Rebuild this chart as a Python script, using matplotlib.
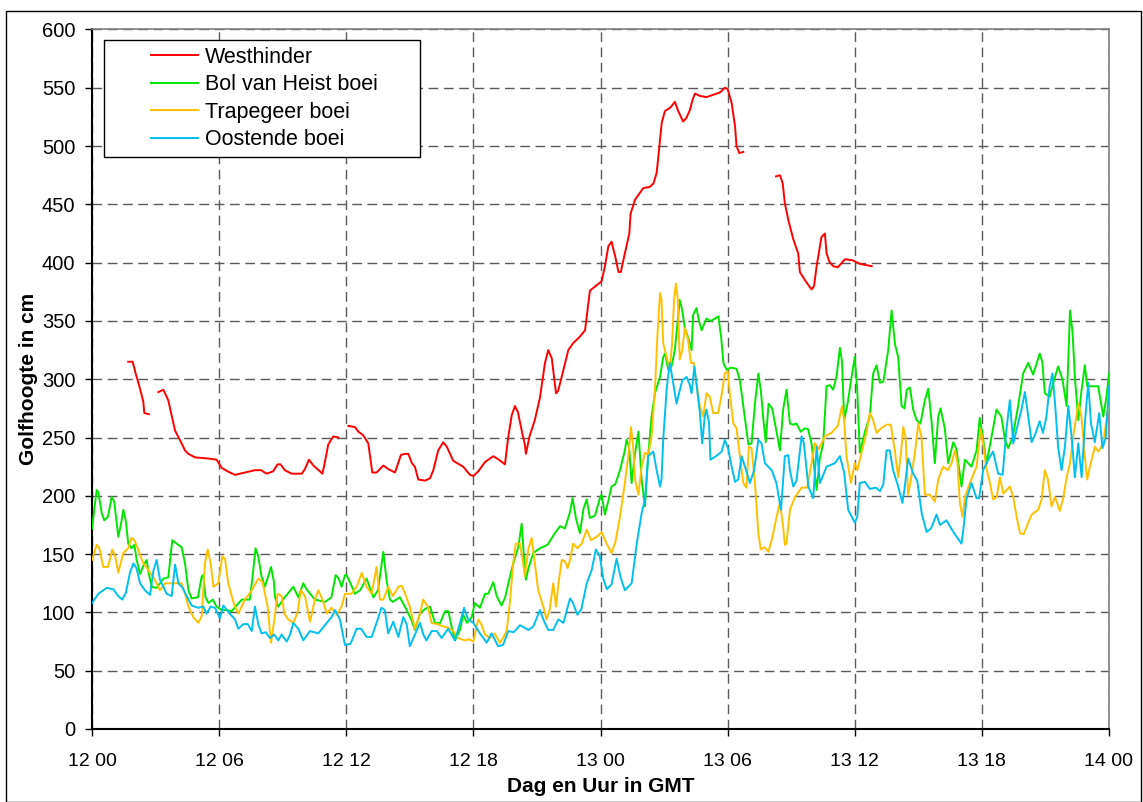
import numpy as np
import matplotlib
matplotlib.use('Agg')
import matplotlib.pyplot as plt
from matplotlib.patches import Rectangle

plt.rcParams['font.family'] = ['Liberation Sans', 'DejaVu Sans']

# time axis: hours after day 12, 00 GMT
nan = np.nan

west_hours = [
    1.71, 1.92, 2.06, 2.25, 2.42, 2.47, 2.69, nan,
    3.13, 3.37, 3.6, 3.92, 4.2, 4.39, 4.55, 4.86, 5.49, 5.88,
    6.12, 6.4, 6.75, 7.22, 7.69, 7.98, 8.24, 8.55, 8.76, 8.9,
    9.1, 9.42, 9.9, 10.05, 10.24, 10.45, 10.76, 10.87, 10.96, 11.15,
    11.39, 11.63, nan,
    12.1, 12.41, 12.57, 12.8, 13.04, 13.23, 13.43, 13.75, 13.98, 14.3,
    14.58, 14.74, 14.93, 15.1, 15.24, 15.4, 15.71, 15.95, 16.11, 16.34,
    16.58, 16.75, 17.05, 17.52, 17.84, 18.0, 18.23, 18.55, 18.94, 19.2,
    19.49, 19.65, 19.81, 19.96, 20.1, 20.28, 20.43, 20.48, 20.65, 20.9,
    21.14, 21.38, 21.53, 21.7, 21.9, 22.0, 22.21, 22.48, 22.71, 23.0,
    23.27, 23.5, 24.05, 24.21, 24.37, 24.52, 24.7, 24.85, 24.96, 25.15,
    25.36, 25.42, 25.63, 26.02, 26.33, 26.5, 26.65, 26.73, 26.89, 27.04,
    27.3, 27.51, 27.67, 27.9, 28.05, 28.22, 28.35, 28.46, 28.7, 29.0,
    29.32, 29.64, 29.87, 30.0, 30.19, 30.35, 30.42, 30.55, 30.74, nan,
    32.28, 32.47, 32.6, 32.7, 32.86, 33.1, 33.33, 33.41, 33.65, 33.96,
    34.08, 34.2, 34.43, 34.59, 34.67, 34.8, 34.98, 35.2, 35.54, 35.9,
    36.24, 36.8,
]
west_cm = [
    315, 315, 305, 293, 281, 271, 270, nan,
    289, 291, 282, 256, 246, 239, 236, 233, 232, 231,
    224, 221, 218, 220, 222, 222, 219, 221, 227, 227,
    222, 219, 219, 223, 231, 226, 221, 219, 226, 244,
    251, 250, nan,
    260, 259, 255, 252, 245, 220, 220, 226, 223, 220,
    235, 236, 236, 228, 225, 214, 213, 215, 222, 239,
    246, 242, 230, 225, 218, 217, 221, 229, 234, 231,
    227, 251, 269, 277, 272, 256, 244, 236, 251, 265,
    284, 314, 325, 318, 288, 290, 305, 325, 331, 336,
    342, 376, 384, 397, 414, 418, 405, 392, 392, 408,
    425, 442, 454, 464, 465, 468, 477, 491, 520, 530,
    533, 538, 530, 521, 524, 531, 540, 545, 543, 542,
    544, 546, 550, 549, 537, 517, 500, 494, 495, nan,
    474, 475, 468, 451, 437, 420, 408, 392, 385, 377,
    380, 397, 422, 425, 408, 401, 397, 396, 403, 402,
    399, 397,
]

bol_hours = [
    0.0, 0.22, 0.3, 0.46, 0.58, 0.75, 0.93, 1.05, 1.24, 1.36,
    1.48, 1.6, 1.71, 1.87, 2.0, 2.11, 2.27, 2.42, 2.58, 2.67,
    2.82, 3.05, 3.37, 3.6, 3.79, 3.99, 4.23, 4.39, 4.55, 4.7,
    5.0, 5.18, 5.25, 5.36, 5.5, 5.7, 5.88, 6.12, 6.35, 6.59,
    6.83, 7.07, 7.45, 7.61, 7.72, 7.85, 8.0, 8.16, 8.3, 8.45,
    8.58, 8.64, 8.79, 9.1, 9.5, 9.74, 9.97, 10.12, 10.52, 11.0,
    11.3, 11.5, 11.65, 11.78, 11.94, 12.02, 12.2, 12.41, 12.65, 12.96,
    13.28, 13.5, 13.75, 13.9, 14.06, 14.2, 14.53, 14.77, 15.09, 15.24,
    15.48, 15.72, 15.95, 16.19, 16.43, 16.66, 16.82, 16.97, 17.13, 17.37,
    17.52, 17.7, 17.92, 18.07, 18.31, 18.55, 18.7, 18.94, 19.1, 19.33,
    19.5, 19.65, 19.88, 20.12, 20.28, 20.38, 20.48, 20.6, 20.83, 21.14,
    21.5, 21.85, 22.09, 22.32, 22.56, 22.68, 22.85, 23.03, 23.2, 23.35,
    23.5, 23.74, 23.97, 24.05, 24.21, 24.36, 24.52, 24.7, 24.92, 25.15,
    25.23, 25.35, 25.47, 25.62, 25.79, 25.94, 26.1, 26.25, 26.41, 26.57,
    26.81, 26.96, 27.05, 27.2, 27.35, 27.51, 27.74, 27.85, 27.98, 28.15,
    28.3, 28.37, 28.53, 28.65, 28.77, 29.0, 29.2, 29.4, 29.56, 29.69,
    29.8, 29.96, 30.15, 30.42, 30.58, 30.74, 30.98, 31.13, 31.29, 31.45,
    31.57, 31.69, 31.8, 31.93, 32.1, 32.31, 32.47, 32.62, 32.78, 32.94,
    33.1, 33.25, 33.45, 33.65, 33.8, 33.96, 34.2, 34.35, 34.51, 34.67,
    34.82, 34.98, 35.14, 35.3, 35.4, 35.5, 35.67, 35.85, 36.0, 36.12,
    36.24, 36.48, 36.71, 36.87, 37.03, 37.19, 37.35, 37.58, 37.74, 37.9,
    38.05, 38.21, 38.35, 38.45, 38.6, 38.76, 38.92, 39.1, 39.31, 39.47,
    39.62, 39.78, 39.94, 40.05, 40.25, 40.41, 40.65, 40.8, 41.04, 41.2,
    41.51, 41.75, 41.9, 42.05, 42.22, 42.46, 42.69, 42.92, 43.09, 43.24,
    43.45, 43.71, 43.95, 44.19, 44.42, 44.73, 44.85, 44.97, 45.2, 45.37,
    45.6, 45.8, 46.0, 46.16, 46.28, 46.39, 46.55, 46.7, 46.86, 46.97,
    47.49, 47.73, 47.88, 48.0,
]
bol_cm = [
    172, 205, 203, 185, 179, 182, 199, 195, 165, 175,
    188, 178, 159, 155, 158, 145, 133, 140, 145, 134,
    122, 121, 129, 130, 162, 159, 156, 142, 119, 112,
    113, 131, 132, 113, 108, 111, 105, 102, 102, 101,
    106, 111, 111, 136, 155, 148, 131, 122, 130, 139,
    127, 113, 105, 113, 122, 113, 125, 120, 111, 109,
    113, 132, 129, 122, 132, 132, 125, 116, 119, 129,
    113, 119, 152, 128, 111, 109, 113, 105, 93, 85,
    99, 103, 105, 91, 91, 101, 101, 88, 76, 85,
    98, 91, 96, 108, 104, 116, 116, 126, 114, 106,
    113, 125, 142, 156, 176, 150, 128, 138, 151, 155,
    158, 168, 174, 172, 186, 198, 180, 168, 189, 197,
    181, 183, 198, 201, 184, 195, 208, 210, 222, 239,
    248, 242, 211, 235, 255, 214, 191, 234, 268, 288,
    302, 319, 322, 308, 311, 325, 368, 360, 344, 335,
    325, 355, 361, 350, 342, 352, 350, 352, 354, 337,
    314, 308, 310, 309, 299, 277, 244, 245, 279, 305,
    290, 265, 246, 279, 275, 255, 239, 274, 291, 262,
    261, 262, 255, 258, 257, 245, 205, 232, 245, 294,
    295, 291, 302, 327, 315, 265, 280, 302, 319, 290,
    237, 255, 268, 305, 312, 297, 298, 325, 359, 330,
    319, 277, 275, 291, 293, 274, 265, 262, 282, 292,
    265, 228, 268, 275, 258, 228, 246, 240, 208, 231,
    225, 239, 267, 250, 228, 251, 274, 268, 248, 241,
    250, 277, 305, 314, 304, 322, 315, 288, 285, 297,
    311, 300, 277, 359, 340, 302, 265, 290, 312, 294,
    294, 268, 285, 305,
]

trap_hours = [
    0.0, 0.22, 0.35, 0.53, 0.75, 0.96, 1.1, 1.24, 1.48, 1.71,
    1.87, 2.0, 2.18, 2.42, 2.6, 2.74, 2.97, 3.21, 3.44, 3.76,
    4.0, 4.23, 4.39, 4.55, 4.78, 5.02, 5.18, 5.33, 5.46, 5.6,
    5.73, 5.96, 6.15, 6.28, 6.43, 6.67, 6.9, 7.22, 7.54, 7.85,
    8.05, 8.29, 8.45, 8.6, 8.76, 8.95, 9.08, 9.26, 9.5, 9.7,
    9.86, 10.05, 10.29, 10.52, 10.68, 10.9, 11.08, 11.3, 11.55, 11.78,
    11.94, 12.25, 12.49, 12.73, 12.96, 13.2, 13.43, 13.59, 13.75, 13.98,
    14.2, 14.46, 14.62, 14.78, 15.0, 15.24, 15.48, 15.63, 15.85, 16.03,
    16.3, 16.58, 16.8, 17.05, 17.29, 17.6, 17.8, 18.0, 18.12, 18.23,
    18.4, 18.55, 18.78, 19.0, 19.25, 19.4, 19.57, 19.72, 19.88, 20.0,
    20.2, 20.35, 20.43, 20.59, 20.75, 20.9, 21.06, 21.3, 21.45, 21.6,
    21.77, 21.9, 22.02, 22.17, 22.32, 22.45, 22.56, 22.71, 22.9, 23.11,
    23.35, 23.55, 23.74, 23.9, 24.05, 24.29, 24.52, 24.7, 24.92, 25.15,
    25.31, 25.44, 25.55, 25.63, 25.79, 25.94, 26.1, 26.25, 26.41, 26.57,
    26.69, 26.81, 26.88, 26.96, 27.12, 27.27, 27.38, 27.47, 27.56, 27.65,
    27.74, 27.86, 27.98, 28.12, 28.27, 28.4, 28.53, 28.69, 28.85, 29.0,
    29.16, 29.32, 29.55, 29.72, 29.87, 30.0, 30.12, 30.27, 30.42, 30.58,
    30.74, 30.89, 31.0, 31.13, 31.29, 31.45, 31.56, 31.75, 31.92, 32.08,
    32.31, 32.47, 32.62, 32.7, 32.78, 32.94, 33.18, 33.49, 33.75, 33.96,
    34.12, 34.3, 34.59, 34.9, 35.2, 35.4, 35.5, 35.61, 35.82, 36.0,
    36.12, 36.32, 36.55, 36.71, 36.85, 37.03, 37.25, 37.5, 37.7, 37.89,
    38.05, 38.2, 38.29, 38.4, 38.52, 38.65, 38.84, 39.0, 39.15, 39.31,
    39.55, 39.78, 39.94, 40.17, 40.4, 40.57, 40.73, 40.85, 40.96, 41.09,
    41.2, 41.43, 41.75, 41.94, 42.06, 42.2, 42.38, 42.53, 42.7, 42.85,
    43.01, 43.32, 43.48, 43.64, 43.8, 43.97, 44.19, 44.35, 44.66, 44.82,
    44.97, 45.12, 45.29, 45.45, 45.55, 45.68, 45.85, 46.0, 46.16, 46.31,
    46.55, 46.7, 46.86, 46.97, 47.1, 47.33, 47.5, 47.73, 47.96,
]
trap_cm = [
    145, 158, 155, 139, 139, 154, 148, 134, 151, 155,
    164, 162, 154, 142, 138, 134, 128, 119, 125, 125,
    125, 125, 116, 105, 96, 91, 97, 142, 154, 142,
    122, 125, 148, 146, 125, 109, 99, 111, 119, 129,
    126, 105, 74, 93, 116, 114, 99, 94, 91, 100,
    119, 114, 92, 111, 119, 110, 99, 104, 98, 105,
    116, 116, 122, 134, 122, 116, 139, 111, 111, 122,
    114, 122, 123, 116, 105, 86, 99, 111, 105, 91,
    90, 88, 87, 84, 78, 76, 77, 75, 85, 94,
    89, 81, 78, 82, 74, 78, 84, 108, 142, 159,
    159, 142, 131, 154, 164, 142, 119, 105, 94, 102,
    125, 105, 125, 145, 144, 138, 145, 159, 155, 159,
    171, 162, 164, 166, 169, 159, 151, 160, 182, 211,
    234, 259, 240, 214, 201, 225, 237, 235, 251, 291,
    339, 374, 368, 331, 319, 308, 331, 368, 382, 368,
    317, 325, 344, 335, 314, 314, 297, 277, 268, 288,
    285, 271, 271, 287, 305, 307, 285, 262, 258, 234,
    211, 207, 242, 241, 211, 168, 154, 156, 152, 162,
    182, 194, 174, 158, 159, 188, 199, 207, 207, 228,
    245, 240, 251, 254, 260, 277, 265, 234, 211, 228,
    222, 237, 254, 271, 266, 254, 258, 261, 261, 239,
    216, 240, 259, 250, 201, 214, 237, 262, 250, 201,
    201, 195, 214, 225, 222, 228, 239, 228, 194, 182,
    199, 211, 225, 257, 245, 225, 211, 197, 199, 216,
    202, 208, 199, 182, 168, 167, 177, 184, 188, 197,
    222, 214, 191, 199, 194, 187, 199, 216, 228, 251,
    279, 268, 234, 214, 225, 242, 238, 245, 277,
]

oost_hours = [
    0.0, 0.3, 0.69, 1.0, 1.24, 1.43, 1.6, 1.79, 1.95, 2.1,
    2.27, 2.5, 2.74, 2.9, 3.05, 3.21, 3.37, 3.52, 3.76, 3.92,
    4.08, 4.28, 4.47, 4.7, 5.0, 5.25, 5.41, 5.6, 5.8, 6.04,
    6.2, 6.45, 6.75, 6.9, 7.15, 7.35, 7.54, 7.69, 7.85, 8.0,
    8.2, 8.4, 8.6, 8.79, 8.95, 9.19, 9.35, 9.5, 9.74, 9.97,
    10.29, 10.68, 11.08, 11.31, 11.47, 11.7, 11.94, 12.2, 12.49, 12.7,
    12.96, 13.2, 13.43, 13.66, 13.82, 13.98, 14.22, 14.46, 14.69, 14.85,
    15.0, 15.24, 15.48, 15.64, 15.79, 16.03, 16.27, 16.5, 16.81, 17.13,
    17.37, 17.56, 17.75, 18.0, 18.31, 18.63, 18.86, 19.17, 19.4, 19.65,
    19.9, 20.2, 20.4, 20.6, 20.83, 21.14, 21.3, 21.53, 21.77, 22.01,
    22.25, 22.56, 22.7, 22.91, 23.1, 23.35, 23.58, 23.78, 23.97, 24.13,
    24.3, 24.52, 24.76, 24.95, 25.15, 25.47, 25.71, 25.94, 26.1, 26.25,
    26.49, 26.65, 26.81, 26.88, 26.96, 27.12, 27.27, 27.43, 27.59, 27.72,
    27.86, 28.06, 28.2, 28.3, 28.43, 28.53, 28.69, 28.8, 28.92, 29.0,
    29.12, 29.19, 29.45, 29.72, 29.87, 30.03, 30.19, 30.35, 30.5, 30.66,
    30.82, 31.05, 31.25, 31.45, 31.6, 31.76, 32.08, 32.3, 32.52, 32.7,
    32.86, 32.94, 33.1, 33.25, 33.49, 33.6, 33.81, 34.04, 34.2, 34.36,
    34.67, 35.06, 35.3, 35.5, 35.69, 36.0, 36.12, 36.24, 36.48, 36.71,
    37.0, 37.19, 37.35, 37.5, 37.65, 37.81, 38.05, 38.25, 38.35, 38.52,
    38.76, 38.95, 39.16, 39.39, 39.6, 39.86, 40.02, 40.33, 40.55, 40.8,
    41.04, 41.15, 41.27, 41.51, 41.75, 41.87, 42.06, 42.3, 42.53, 42.77,
    42.98, 43.16, 43.32, 43.48, 43.64, 43.87, 44.03, 44.19, 44.35, 44.5,
    44.73, 44.88, 45.04, 45.2, 45.33, 45.45, 45.6, 45.76, 45.92, 46.08,
    46.24, 46.39, 46.55, 46.71, 46.86, 47.02, 47.15, 47.33, 47.54, 47.69,
    47.85, 48.0,
]
oost_cm = [
    108, 116, 121, 120, 114, 111, 117, 134, 142, 138,
    125, 119, 115, 136, 145, 128, 122, 116, 114, 141,
    125, 121, 114, 106, 104, 105, 99, 105, 104, 95,
    106, 100, 94, 86, 90, 90, 84, 105, 90, 82,
    83, 78, 81, 76, 81, 75, 81, 91, 86, 76,
    84, 82, 91, 96, 102, 94, 72, 73, 86, 86,
    79, 79, 91, 104, 102, 82, 92, 79, 96, 90,
    71, 81, 91, 81, 76, 84, 84, 78, 86, 76,
    91, 104, 94, 91, 82, 74, 82, 71, 72, 84,
    83, 89, 87, 85, 88, 102, 94, 85, 85, 94,
    91, 112, 108, 98, 103, 125, 136, 154, 148, 129,
    120, 124, 146, 130, 119, 125, 159, 185, 197, 234,
    238, 222, 208, 214, 248, 291, 314, 297, 279, 289,
    299, 302, 296, 288, 311, 296, 271, 245, 268, 274,
    263, 231, 234, 238, 248, 240, 225, 212, 214, 234,
    225, 211, 222, 248, 245, 228, 222, 211, 188, 234,
    235, 222, 208, 213, 251, 245, 208, 198, 242, 211,
    225, 228, 234, 220, 188, 177, 182, 211, 212, 206,
    207, 204, 210, 239, 239, 222, 208, 194, 206, 232,
    219, 213, 185, 169, 172, 184, 175, 179, 172, 165,
    159, 175, 197, 211, 198, 198, 222, 231, 238, 219,
    218, 257, 282, 245, 257, 274, 289, 268, 246, 252,
    264, 254, 267, 294, 305, 280, 242, 222, 242, 277,
    250, 216, 245, 216, 262, 297, 262, 246, 271, 241,
    250, 294,
]

tick_hours = [0, 6, 12, 18, 24, 30, 36, 42, 48]
tick_labels = ['12 00', '12 06', '12 12', '12 18', '13 00',
               '13 06', '13 12', '13 18', '14 00']

series = [
    ('Westhinder', west_hours, west_cm, '#ff0000'),
    ('Bol van Heist boei', bol_hours, bol_cm, '#00e600'),
    ('Trapegeer boei', trap_hours, trap_cm, '#ffc000'),
    ('Oostende boei', oost_hours, oost_cm, '#00c0f0'),
]

W, H = 1143, 802
fig = plt.figure(figsize=(W / 100, H / 100), dpi=100)
ax = fig.add_axes([92 / W, 73 / H, 1017 / W, 699.5 / H])

for name, t, v, c in series:
    ax.plot(t, v, color=c, lw=1.4, label=name, zorder=3)

ax.set_xlim(0, 48)
ax.set_ylim(0, 600)
ax.set_xticks(tick_hours)
ax.set_xticklabels(tick_labels)
ax.set_yticks(range(0, 601, 50))
ax.set_axisbelow(True)
ax.grid(True, color='#5a5a5a', lw=1.0, ls=(0, (7, 4)))

ax.tick_params(axis='both', direction='out', length=5, width=1, color='black')
ax.tick_params(axis='x', labelsize=14, pad=12)
ax.tick_params(axis='y', labelsize=14.5, pad=7)

for s in ['left', 'bottom']:
    ax.spines[s].set_color('black')
    ax.spines[s].set_linewidth(1.5)
for s in ['top', 'right']:
    ax.spines[s].set_color('#808080')
    ax.spines[s].set_linewidth(1.2)

ax.set_ylabel('Golfhoogte in cm', fontsize=15, fontweight='bold')
ax.set_xlabel('Dag en Uur in GMT', fontsize=15, fontweight='bold')
ax.yaxis.set_label_coords(-0.053, 0.5)
ax.xaxis.set_label_coords(0.5, -0.068)

# legend box drawn by hand so the entries sit indented like the original
ax.add_patch(Rectangle((104 / W, 1 - 157 / H), 316 / W, 117 / H,
                       transform=fig.transFigure, facecolor='white',
                       edgecolor='black', lw=1, zorder=4))
ax.legend(loc='upper left', bbox_to_anchor=(151 / W, 1 - 47 / H),
          bbox_transform=fig.transFigure, frameon=False, fontsize=15.5,
          handlelength=2.2, handletextpad=0.3, borderpad=0,
          labelspacing=0.3, borderaxespad=0)

fig.add_artist(Rectangle((5.5 / W, 0.5 / H), 1135 / W, 791 / H,
                         transform=fig.transFigure, fill=False,
                         edgecolor='black', lw=1))

fig.savefig('out.png', dpi=100)
